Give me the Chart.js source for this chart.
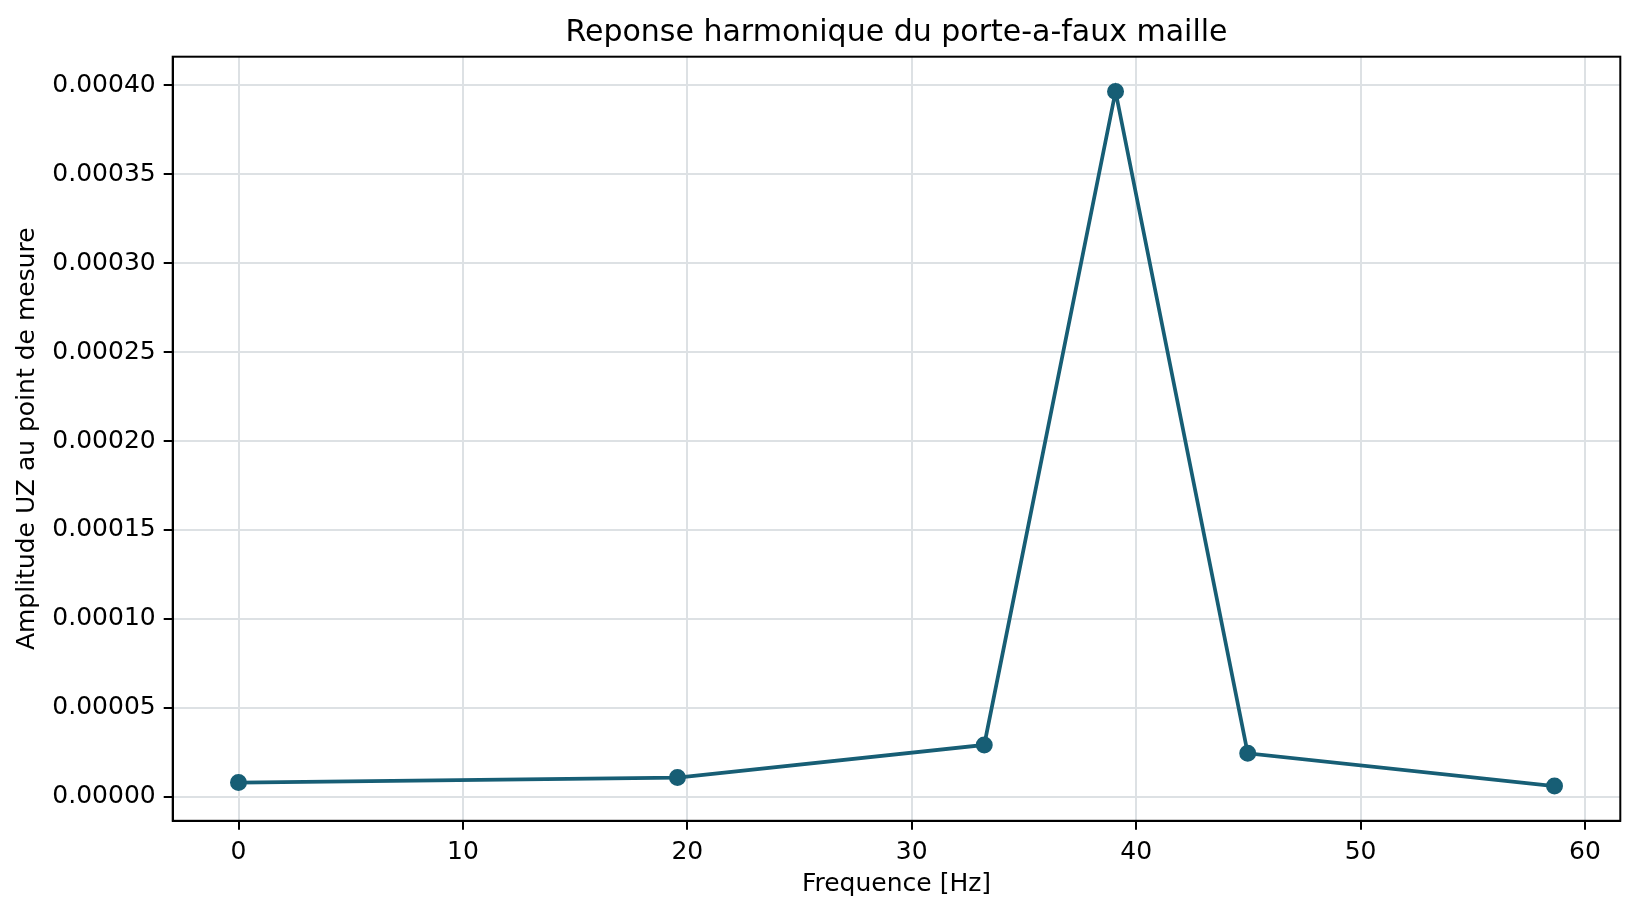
<!DOCTYPE html>
<html>
<head>
<meta charset="utf-8">
<title>Reponse harmonique du porte-a-faux maille</title>
<script src="https://cdn.jsdelivr.net/npm/chart.js@4.4.1/dist/chart.umd.min.js"></script>
<style>
  html, body { margin: 0; padding: 0; background: #fff; }
  #wrap { width: 1637px; height: 913px; }
</style>
</head>
<body>
<div id="wrap"><canvas id="chart" width="1637" height="913"></canvas></div>
<script>
const frequencies = [0, 19.56, 33.23, 39.08, 44.97, 58.64];
const amplitudes = [8.0e-6, 1.08e-5, 2.91e-5, 3.966e-4, 2.44e-5, 6.0e-6];
const xTicks = [0, 10, 20, 30, 40, 50, 60];
const yTicks = [0, 0.00005, 0.0001, 0.00015, 0.0002, 0.00025, 0.0003, 0.00035, 0.0004];

const lineColor = '#175e75';
const gridColor = '#dde1e4';
const fontFamily = "'DejaVu Sans', sans-serif";

// 5% margin around the data, like matplotlib autoscale
function padRange(values, frac) {
  const lo = Math.min(...values);
  const hi = Math.max(...values);
  const m = (hi - lo) * frac;
  return { min: lo - m, max: hi + m };
}
const xRange = padRange(frequencies, 0.05);
const yRange = padRange(amplitudes, 0.05);

// full black box around the plot area
const frame = {
  id: 'frame',
  afterDatasetsDraw(chart) {
    const { ctx, chartArea } = chart;
    ctx.save();
    ctx.strokeStyle = '#000';
    ctx.lineWidth = 2;
    ctx.strokeRect(chartArea.left, chartArea.top, chartArea.right - chartArea.left, chartArea.bottom - chartArea.top);
    ctx.restore();
  }
};

new Chart(document.getElementById('chart'), {
  type: 'scatter',
  data: {
    datasets: [
      {
        data: frequencies.map((f, i) => ({ x: f, y: amplitudes[i] })),
        showLine: true,
        borderColor: lineColor,
        backgroundColor: lineColor,
        borderWidth: 3.75,
        pointRadius: 7.5,
        pointBorderWidth: 2,
        pointBackgroundColor: lineColor,
        pointBorderColor: lineColor,
        tension: 0,
      },
    ],
  },
  options: {
    responsive: false,
    animation: false,
    layout: {
      padding: { left: 0, right: 16.7, top: 0, bottom: 0 },
    },
    scales: {
      x: {
        type: 'linear',
        min: xRange.min,
        max: xRange.max,
        afterBuildTicks: (axis) => {
          axis.ticks = xTicks.map((v) => ({ value: v }));
        },
        afterFit: (axis) => {
          axis.height = 92.2;
        },
        border: { display: true, color: '#000', width: 2 },
        grid: {
          color: gridColor,
          lineWidth: 2,
          tickLength: 9,
          tickColor: '#000',
          tickWidth: 2,
        },
        ticks: {
          color: '#000',
          font: { family: fontFamily, size: 25 },
          padding: 8,
          maxRotation: 0,
          autoSkip: false,
        },
        title: {
          display: true,
          text: 'Frequence [Hz]',
          color: '#000',
          font: { family: fontFamily, size: 25 },
          padding: { top: 0, bottom: 14 },
        },
      },
      y: {
        type: 'linear',
        min: yRange.min,
        max: yRange.max,
        afterBuildTicks: (axis) => {
          axis.ticks = yTicks.map((v) => ({ value: v }));
        },
        afterFit: (axis) => {
          axis.width = 172.7;
        },
        border: { display: true, color: '#000', width: 2 },
        grid: {
          color: gridColor,
          lineWidth: 2,
          tickLength: 9,
          tickColor: '#000',
          tickWidth: 2,
        },
        ticks: {
          color: '#000',
          font: { family: fontFamily, size: 25 },
          padding: 8,
          autoSkip: false,
          callback: (v) => Number(v).toFixed(5),
        },
        title: {
          display: true,
          text: 'Amplitude UZ au point de mesure',
          color: '#000',
          font: { family: fontFamily, size: 25 },
          padding: { top: 12, bottom: 0 },
        },
      },
    },
    plugins: {
      legend: { display: false },
      tooltip: { enabled: false },
      title: {
        display: true,
        fullSize: false,
        text: 'Reponse harmonique du porte-a-faux maille',
        color: '#000',
        font: { family: fontFamily, size: 30, weight: 'normal' },
        padding: { top: 15.6, bottom: 5.1 },
      },
    },
  },
  plugins: [frame],
});
</script>
</body>
</html>
